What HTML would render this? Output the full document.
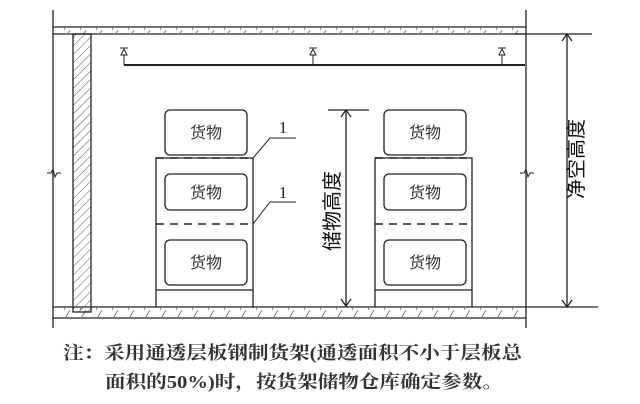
<!DOCTYPE html>
<html><head><meta charset="utf-8"><style>
html,body{margin:0;padding:0;background:#fff;}
svg{display:block;}
</style></head><body>
<svg width="640" height="404" viewBox="0 0 640 404" xmlns="http://www.w3.org/2000/svg">
<defs>
<pattern id="h" width="6" height="6" patternUnits="userSpaceOnUse" patternTransform="rotate(45)">
<line x1="0" y1="0" x2="0" y2="6" stroke="#555" stroke-width="1"/>
</pattern>
<pattern id="h2" width="16" height="10" patternUnits="userSpaceOnUse">
<line x1="0" y1="10" x2="6" y2="0" stroke="#777" stroke-width="1"/>
</pattern>
</defs>
<g stroke="#222" fill="none" stroke-width="1.3">
<line x1="53" y1="10" x2="53" y2="328"/>
<line x1="526" y1="10" x2="526" y2="328"/>
<line x1="53" y1="27" x2="526" y2="27"/>
<line x1="53" y1="34" x2="526" y2="34"/>
<rect x="53" y="27" width="473" height="7" fill="url(#h2)" stroke="none"/>
<line x1="53" y1="307" x2="526" y2="307"/>
<line x1="53" y1="318" x2="526" y2="318"/>
<rect x="53" y="307" width="473" height="11" fill="url(#h2)" stroke="none"/>
<rect x="73" y="34" width="18" height="278" fill="url(#h)"/>
<path d="M47 173 L51 173 L53 169 L55 177 L57 173 L61 173" stroke-width="1"/>
<path d="M520 173 L524 173 L526 169 L528 177 L530 173 L534 173" stroke-width="1"/>
<line x1="124" y1="65" x2="525" y2="65" stroke-width="2"/>
<g stroke-width="1">
<line x1="124" y1="55" x2="124" y2="65"/><path d="M120 48 H128 M121 55 H127 L124 49 Z"/>
<line x1="313" y1="55" x2="313" y2="65"/><path d="M309 48 H317 M310 55 H316 L313 49 Z"/>
<line x1="502" y1="55" x2="502" y2="65"/><path d="M498 48 H506 M499 55 H505 L502 49 Z"/>
</g>
<rect x="165" y="110" width="82" height="45" rx="5"/>
<path d="M156 307 V158 H253 V307"/>
<line x1="156" y1="158" x2="253" y2="158" stroke-dasharray="8,6" stroke-width="1.6"/>
<rect x="165" y="174" width="82" height="36" rx="5"/>
<line x1="156" y1="224" x2="253" y2="224" stroke-dasharray="8,6" stroke-width="1.6"/>
<rect x="165" y="240" width="82" height="45" rx="5"/>
<line x1="156" y1="290" x2="253" y2="290"/>
<rect x="384" y="110" width="82" height="45" rx="5"/>
<path d="M375 307 V158 H472 V307"/>
<line x1="375" y1="158" x2="472" y2="158" stroke-dasharray="8,6" stroke-width="1.6"/>
<rect x="384" y="174" width="82" height="36" rx="5"/>
<line x1="375" y1="224" x2="472" y2="224" stroke-dasharray="8,6" stroke-width="1.6"/>
<rect x="384" y="240" width="82" height="45" rx="5"/>
<line x1="375" y1="290" x2="472" y2="290"/>
<path d="M253 158 L270 138 H296" stroke-width="1"/>
<path d="M253 224 L270 202 H296" stroke-width="1"/>
<line x1="328" y1="110" x2="369" y2="110"/>
<line x1="346" y1="110" x2="346" y2="306"/>
<path d="M341 117 L346 110 L351 117 M341 299 L346 306 L351 299"/>
<line x1="515" y1="34" x2="592" y2="34"/>
<line x1="526" y1="307" x2="598" y2="307"/>
<line x1="567" y1="34" x2="567" y2="307"/>
<path d="M562 41 L567 34 L572 41 M562 300 L567 307 L572 300"/>
</g>
<g font-family="Liberation Serif, Noto Serif CJK SC, serif" fill="#222" font-size="17">
<text x="283" y="133" text-anchor="middle">1</text>
<text x="283" y="198" text-anchor="middle">1</text>
</g>
<g font-family="Liberation Sans, Noto Sans CJK SC, sans-serif" fill="#333" font-size="16" text-anchor="middle">
<text x="206" y="138">货物</text><text x="206" y="198">货物</text><text x="206" y="268">货物</text>
<text x="425" y="138">货物</text><text x="425" y="198">货物</text><text x="425" y="268">货物</text>
</g>
<g font-family="Liberation Sans, Noto Sans CJK SC, sans-serif" fill="#111" font-size="20">
<text transform="translate(339,211) rotate(-90)" text-anchor="middle">储物高度</text>
<text transform="translate(583,159) rotate(-90)" text-anchor="middle">净空高度</text>
</g>
<g font-family="Liberation Serif, Noto Serif CJK SC, serif" fill="#333" font-size="18" font-weight="bold">
<text x="63" y="359" textLength="459" lengthAdjust="spacingAndGlyphs">注：采用通透层板钢制货架(通透面积不小于层板总</text>
<text x="105" y="388" textLength="398" lengthAdjust="spacingAndGlyphs">面积的50%)时，按货架储物仓库确定参数。</text>
</g>
</svg>
</body></html>
